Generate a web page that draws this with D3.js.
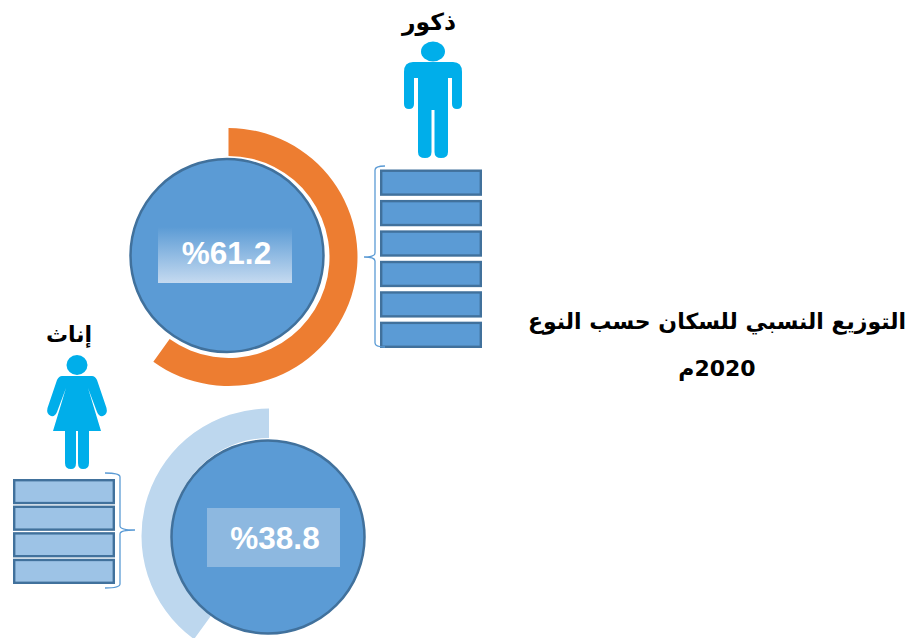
<!DOCTYPE html>
<html>
  <head>
    <meta charset="utf-8">
    <script src="https://d3js.org/d3.v7.min.js"></script>
    <style>
        html, body { margin: 0; padding: 0; background: #ffffff; }
        svg { display: block; }
        .pct { font-family: "Liberation Sans", sans-serif; font-weight: bold; fill: #ffffff; }
        .ar { font-family: "DejaVu Sans", sans-serif; font-weight: bold; fill: #000000; }
    </style>
  </head>
  <body>
    <div id="chartcontainer"></div>
    <script type="text/javascript">

      // values
      var groups = ["ذكور", "إناث"];
      var labels = ["%61.2", "%38.8"];
      var ringShare = [59.9, 40.0];   // how far each ring actually sweeps, in % of a full turn
      var stackUnits = [6, 4];
      var titleLines = ["التوزيع النسبي للسكان حسب النوع", "2020م"];

      var width = 910, height = 638;
      var svg = d3.select("#chartcontainer").append("svg")
          .attr("width", width)
          .attr("height", height);

      var defs = svg.append("defs");
      defs.append("filter").attr("id", "soft")
          .append("feGaussianBlur").attr("stdDeviation", 0.6);
      var grad = defs.append("linearGradient").attr("id", "fade")
          .attr("x1", 0).attr("y1", 0).attr("x2", 0).attr("y2", 1);
      grad.append("stop").attr("offset", "0").attr("stop-color", "#5b9bd5");
      grad.append("stop").attr("offset", "1").attr("stop-color", "#c5daf0");

      var angle = d3.scaleLinear().domain([0, 100]).range([0, 2 * Math.PI]);
      var blue = "#5b9bd5", edge = "#41719c", icon = "#00aeea";

      // ring + disc + label box
      function donut(i, o) {
        var dir = o.clockwise ? 1 : -1;
        var arc = d3.arc()
            .innerRadius(o.inner)
            .outerRadius(o.outer)
            .startAngle(0)
            .endAngle(dir * angle(ringShare[i]));

        svg.append("path")
            .attr("transform", "translate(" + o.ringX + "," + o.ringY + ")")
            .attr("d", arc())
            .attr("fill", o.ringColor);

        svg.append("circle")
            .attr("cx", o.cx).attr("cy", o.cy).attr("r", 96.5)
            .attr("fill", blue)
            .attr("stroke", edge)
            .attr("stroke-width", 2.5);

        svg.append("rect")
            .attr("x", o.boxX).attr("y", o.boxY)
            .attr("width", o.boxW).attr("height", o.boxH)
            .attr("fill", o.boxFill);

        svg.append("text")
            .attr("class", "pct")
            .attr("x", o.boxX + o.boxW / 2 + 1.5)
            .attr("y", o.textY)
            .attr("text-anchor", "middle")
            .attr("direction", "ltr")
            .style("font-size", "31.5px")
            .text(labels[i]);
      }

      // pile of little boxes under a figure
      function stack(i, x0, x1, y0, y1, pad, fill) {
        var y = d3.scaleBand()
            .domain(d3.range(stackUnits[i]))
            .range([y0, y1])
            .paddingInner(pad);

        svg.append("g").selectAll("rect")
            .data(d3.range(stackUnits[i]))
            .join("rect")
            .attr("x", x0 + 1.2)
            .attr("y", function(d) { return y(d) + 1.2; })
            .attr("width", x1 - x0 - 2.4)
            .attr("height", y.bandwidth() - 2.4)
            .attr("fill", fill)
            .attr("stroke", edge)
            .attr("stroke-width", 2.4);
      }

      // curly bracket, hook side and tip side given by x
      function brace(spine, hook, tip, y0, ym, y1) {
        var d = d3.path();
        d.moveTo(hook, y0);
        d.quadraticCurveTo(spine, y0, spine, y0 + 4);
        d.lineTo(spine, ym - 4);
        d.quadraticCurveTo(spine, ym, tip, ym);
        d.quadraticCurveTo(spine, ym, spine, ym + 4);
        d.lineTo(spine, y1 - 4);
        d.quadraticCurveTo(spine, y1, hook, y1);
        svg.append("path")
            .attr("d", d.toString())
            .attr("fill", "none")
            .attr("stroke", blue)
            .attr("stroke-width", 1.3);
      }

      function man(x, y) {
        var g = svg.append("g")
            .attr("transform", "translate(" + x + "," + y + ")")
            .attr("fill", icon)
            .attr("filter", "url(#soft)");
        g.append("ellipse").attr("cx", 0).attr("cy", 51.5).attr("rx", 12).attr("ry", 10);
        g.append("path").attr("d",
          "M-20,62 L20,62 Q29,62 29,72 L29,104 Q29,109 24,109 Q19,109 19,104 L19,78 L15,78 L15,152 " +
          "Q15,158 8,158 Q1.5,158 1.5,152 L1.5,110 L-1.5,110 L-1.5,152 Q-1.5,158 -8,158 Q-15,158 -15,152 " +
          "L-15,78 L-19,78 L-19,104 Q-19,109 -24,109 Q-29,109 -29,104 L-29,72 Q-29,62 -20,62 Z");
      }

      function woman(x, y) {
        var g = svg.append("g")
            .attr("transform", "translate(" + x + "," + y + ")")
            .attr("fill", icon)
            .attr("filter", "url(#soft)");
        g.append("ellipse").attr("cx", 0).attr("cy", 55).attr("rx", 10.5).attr("ry", 10);
        g.append("path").attr("d",
          "M-15,66 L15,66 Q18,66 20,70 L29.5,98 Q31,104 26,106 Q22,107 20,102 L11,78 L24,121 L12,121 L12,153 " +
          "Q12,159 6,159 Q1,159 1,153 L1,121 L-1,121 L-1,153 Q-1,159 -6,159 Q-12,159 -12,153 L-12,121 L-24,121 " +
          "L-11,78 L-20,102 Q-22,107 -26,106 Q-31,104 -29.5,98 L-20,70 Q-18,66 -15,66 Z");
      }

      // male side
      donut(0, {
        clockwise: true, ringX: 228.5, ringY: 257, inner: 101, outer: 129, ringColor: "#ed7d31",
        cx: 227, cy: 255.5,
        boxX: 158, boxY: 227, boxW: 134, boxH: 56, boxFill: "url(#fade)", textY: 264
      });
      stack(0, 380, 482, 169.5, 348, 0.135, blue);
      brace(375, 385, 364, 166, 257, 347);
      man(433, 0);

      // female side
      donut(1, {
        clockwise: false, ringX: 269, ringY: 536, inner: 98, outer: 127.5, ringColor: "#bdd7ee",
        cx: 268, cy: 537,
        boxX: 207, boxY: 508, boxW: 133, boxH: 59, boxFill: "#8db8e0", textY: 549
      });
      stack(1, 13, 115, 479, 584, 0.05, "#9dc3e6");
      brace(120, 105, 135, 473, 530, 588);
      woman(77, 310);

      // group names
      svg.append("text").attr("class", "ar")
          .attr("x", 429).attr("y", 30)
          .attr("text-anchor", "middle").attr("direction", "rtl")
          .style("font-size", "23.5px").text(groups[0]);
      svg.append("text").attr("class", "ar")
          .attr("x", 69).attr("y", 342)
          .attr("text-anchor", "middle").attr("direction", "rtl")
          .style("font-size", "22px").text(groups[1]);

      // title
      svg.selectAll(".title").data(titleLines).join("text")
          .attr("class", "ar title")
          .attr("x", 717)
          .attr("y", function(d, i) { return 329 + i * 47; })
          .attr("text-anchor", "middle")
          .attr("direction", "rtl")
          .style("font-size", "22px")
          .text(function(d) { return d; });

    </script>
  </body>
</html>
